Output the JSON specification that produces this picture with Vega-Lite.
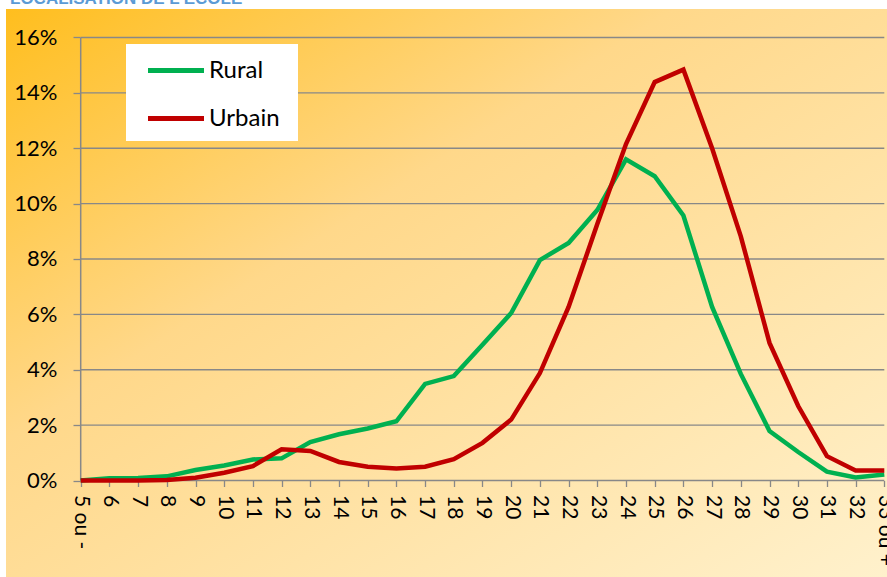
{
  "$schema": "https://vega.github.io/schema/vega-lite/v6.json",
  "autosize": {"type": "none"},
  "width": 881,
  "height": 568,
  "padding": {"left": 6, "top": 9, "right": 0, "bottom": 0},
  "background": "white",
  "title": {
    "text": "LOCALISATION DE L'ÉCOLE",
    "anchor": "start",
    "frame": "group",
    "font": "Liberation Sans",
    "fontSize": 17,
    "fontWeight": "bold",
    "color": "#5B9BD5",
    "baseline": "bottom",
    "offset": 0,
    "dx": 4,
    "dy": 16
  },
  "view": {
    "stroke": null,
    "fill": {
      "gradient": "linear",
      "x1": 0, "y1": 0, "x2": 1, "y2": 1,
      "stops": [
        {"offset": 0, "color": "#FFBE1E"},
        {"offset": 0.38, "color": "#FFD88A"},
        {"offset": 1, "color": "#FFF1CC"}
      ]
    }
  },
  "datasets": {
    "ticks": [
      {"tick": 0}, {"tick": 0.02}, {"tick": 0.04}, {"tick": 0.06}, {"tick": 0.08},
      {"tick": 0.10}, {"tick": 0.12}, {"tick": 0.14}, {"tick": 0.16}
    ],
    "main": [
      {"i": 0, "age": "5 ou -", "serie": "Rural", "value": 0.0},
      {"i": 1, "age": "6", "serie": "Rural", "value": 0.0008},
      {"i": 2, "age": "7", "serie": "Rural", "value": 0.0009},
      {"i": 3, "age": "8", "serie": "Rural", "value": 0.0015},
      {"i": 4, "age": "9", "serie": "Rural", "value": 0.0038},
      {"i": 5, "age": "10", "serie": "Rural", "value": 0.0054},
      {"i": 6, "age": "11", "serie": "Rural", "value": 0.0076},
      {"i": 7, "age": "12", "serie": "Rural", "value": 0.0080},
      {"i": 8, "age": "13", "serie": "Rural", "value": 0.0139},
      {"i": 9, "age": "14", "serie": "Rural", "value": 0.0167},
      {"i": 10, "age": "15", "serie": "Rural", "value": 0.0188},
      {"i": 11, "age": "16", "serie": "Rural", "value": 0.0214},
      {"i": 12, "age": "17", "serie": "Rural", "value": 0.0349},
      {"i": 13, "age": "18", "serie": "Rural", "value": 0.0377},
      {"i": 14, "age": "19", "serie": "Rural", "value": 0.0490},
      {"i": 15, "age": "20", "serie": "Rural", "value": 0.0605},
      {"i": 16, "age": "21", "serie": "Rural", "value": 0.0796},
      {"i": 17, "age": "22", "serie": "Rural", "value": 0.0858},
      {"i": 18, "age": "23", "serie": "Rural", "value": 0.0977},
      {"i": 19, "age": "24", "serie": "Rural", "value": 0.1160},
      {"i": 20, "age": "25", "serie": "Rural", "value": 0.1099},
      {"i": 21, "age": "26", "serie": "Rural", "value": 0.0957},
      {"i": 22, "age": "27", "serie": "Rural", "value": 0.0627},
      {"i": 23, "age": "28", "serie": "Rural", "value": 0.0385},
      {"i": 24, "age": "29", "serie": "Rural", "value": 0.0179},
      {"i": 25, "age": "30", "serie": "Rural", "value": 0.0103},
      {"i": 26, "age": "31", "serie": "Rural", "value": 0.0032},
      {"i": 27, "age": "32", "serie": "Rural", "value": 0.0011},
      {"i": 28, "age": "33 ou +", "serie": "Rural", "value": 0.0022},
      {"i": 0, "age": "5 ou -", "serie": "Urbain", "value": 0.0},
      {"i": 1, "age": "6", "serie": "Urbain", "value": 0.0},
      {"i": 2, "age": "7", "serie": "Urbain", "value": 0.0},
      {"i": 3, "age": "8", "serie": "Urbain", "value": 0.0002},
      {"i": 4, "age": "9", "serie": "Urbain", "value": 0.0010},
      {"i": 5, "age": "10", "serie": "Urbain", "value": 0.0028},
      {"i": 6, "age": "11", "serie": "Urbain", "value": 0.0052},
      {"i": 7, "age": "12", "serie": "Urbain", "value": 0.0113},
      {"i": 8, "age": "13", "serie": "Urbain", "value": 0.0107},
      {"i": 9, "age": "14", "serie": "Urbain", "value": 0.0067},
      {"i": 10, "age": "15", "serie": "Urbain", "value": 0.0050},
      {"i": 11, "age": "16", "serie": "Urbain", "value": 0.0043},
      {"i": 12, "age": "17", "serie": "Urbain", "value": 0.0050},
      {"i": 13, "age": "18", "serie": "Urbain", "value": 0.0077},
      {"i": 14, "age": "19", "serie": "Urbain", "value": 0.0136},
      {"i": 15, "age": "20", "serie": "Urbain", "value": 0.0220},
      {"i": 16, "age": "21", "serie": "Urbain", "value": 0.0388},
      {"i": 17, "age": "22", "serie": "Urbain", "value": 0.0627},
      {"i": 18, "age": "23", "serie": "Urbain", "value": 0.0926},
      {"i": 19, "age": "24", "serie": "Urbain", "value": 0.1215},
      {"i": 20, "age": "25", "serie": "Urbain", "value": 0.1439},
      {"i": 21, "age": "26", "serie": "Urbain", "value": 0.1484},
      {"i": 22, "age": "27", "serie": "Urbain", "value": 0.1200},
      {"i": 23, "age": "28", "serie": "Urbain", "value": 0.0882},
      {"i": 24, "age": "29", "serie": "Urbain", "value": 0.0497},
      {"i": 25, "age": "30", "serie": "Urbain", "value": 0.0269},
      {"i": 26, "age": "31", "serie": "Urbain", "value": 0.0088},
      {"i": 27, "age": "32", "serie": "Urbain", "value": 0.0036},
      {"i": 28, "age": "33 ou +", "serie": "Urbain", "value": 0.0036}
    ]
  },
  "layer": [
    {
      "data": {"name": "ticks"},
      "mark": {"type": "rule", "color": "#888888", "strokeWidth": 1.3},
      "encoding": {
        "y": {"field": "tick", "type": "quantitative",
              "scale": {"domain": [-0.03485, 0.17029], "nice": false, "zero": false},
              "axis": {"orient": "left", "offset": -74, "domain": false, "grid": false,
                       "values": [0, 0.02, 0.04, 0.06, 0.08, 0.10, 0.12, 0.14, 0.16],
                       "format": ".0%", "ticks": true, "tickColor": "#888888", "tickSize": 7, "tickWidth": 1.3,
                       "labelPadding": 16, "labelFont": "Lato", "labelFontSize": 22,
                       "labelColor": "#000000", "title": null}},
        "x": {"datum": "5 ou -", "type": "ordinal",
              "scale": {"type": "point", "padding": 0, "range": [74.7, 878.3],
                        "domain": ["5 ou -","6","7","8","9","10","11","12","13","14","15","16","17","18","19","20","21","22","23","24","25","26","27","28","29","30","31","32","33 ou +"]},
              "axis": {"orient": "bottom", "offset": -96.5, "domain": false, "grid": false,
                       "ticks": true, "tickColor": "#888888", "tickSize": 6, "tickWidth": 1.3,
                       "labelAngle": 90, "labelPadding": 8, "labelFont": "Lato", "labelFontSize": 21,
                       "labelColor": "#000000", "title": null, "labelOverlap": false}},
        "x2": {"datum": "33 ou +"}
      }
    },
    {
      "data": {"values": [{"lo": 0, "hi": 0.16}]},
      "mark": {"type": "rule", "color": "#888888", "strokeWidth": 1.5},
      "encoding": {
        "x": {"datum": "5 ou -", "type": "ordinal"},
        "y": {"field": "lo", "type": "quantitative"},
        "y2": {"field": "hi"}
      }
    },
    {
      "data": {"name": "main"},
      "mark": {"type": "line", "strokeWidth": 4.5, "strokeJoin": "miter", "strokeCap": "butt"},
      "encoding": {
        "x": {"field": "age", "type": "ordinal"},
        "y": {"field": "value", "type": "quantitative"},
        "order": {"field": "i"},
        "color": {"field": "serie", "type": "nominal",
                  "scale": {"domain": ["Rural", "Urbain"], "range": ["#00B050", "#C00000"]},
                  "legend": {"orient": "none", "legendX": 120, "legendY": 35,
                             "title": " ", "titleOrient": "right", "titlePadding": 8, "titleFontSize": 6,
                             "fillColor": "#FFFFFF", "padding": 10,
                             "symbolType": "M-2,0H2", "symbolStrokeWidth": 5, "symbolSize": 784,
                             "symbolOffset": 23.5,
                             "labelFont": "Lato", "labelFontSize": 24, "labelColor": "#000000",
                             "labelOffset": 16.5, "rowPadding": 19}}
      }
    }
  ]
}
